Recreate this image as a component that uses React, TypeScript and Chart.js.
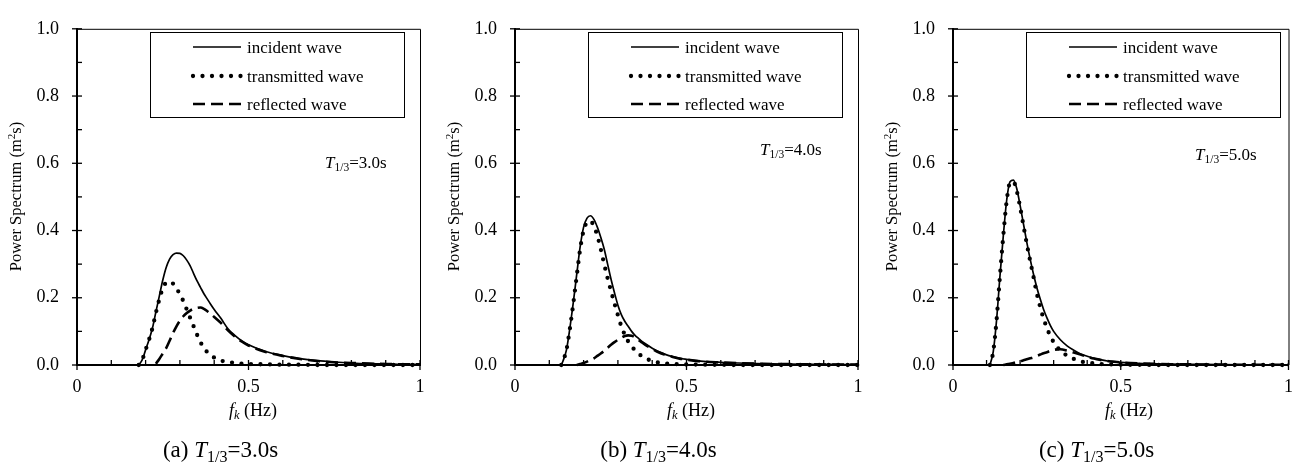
import React, { useEffect, useRef } from "react";
import { Chart, registerables } from "chart.js";
Chart.register(...registerables);

const FONT = "'Liberation Serif', 'Times New Roman', serif";

// ---------- data ----------
const freqA = [0.18, 0.19, 0.20, 0.21, 0.22, 0.23, 0.24, 0.25, 0.26, 0.27, 0.28, 0.29, 0.30, 0.31, 0.32, 0.33, 0.34, 0.35, 0.36, 0.37, 0.38, 0.39, 0.40, 0.42, 0.44, 0.46, 0.48, 0.50, 0.55, 0.60, 0.65, 0.70, 0.75, 0.80, 0.85, 0.90, 0.95, 1.00];
const incidentA = [0, 0.015, 0.045, 0.075, 0.11, 0.158, 0.205, 0.252, 0.29, 0.315, 0.328, 0.333, 0.332, 0.325, 0.312, 0.295, 0.272, 0.25, 0.231, 0.212, 0.196, 0.18, 0.165, 0.138, 0.108, 0.088, 0.072, 0.06, 0.04, 0.028, 0.019, 0.013, 0.009, 0.006, 0.004, 0.003, 0.002, 0.002];
const transmittedA = [0, 0.015, 0.045, 0.075, 0.11, 0.155, 0.195, 0.228, 0.245, 0.248, 0.242, 0.228, 0.21, 0.19, 0.165, 0.14, 0.115, 0.09, 0.068, 0.05, 0.038, 0.029, 0.022, 0.013, 0.009, 0.006, 0.004, 0.003, 0.002, 0.001, 0.001, 0, 0, 0, 0, 0, 0, 0];
const reflectedA = [null, null, null, null, null, 0.004, 0.018, 0.034, 0.05, 0.072, 0.095, 0.115, 0.132, 0.145, 0.155, 0.162, 0.167, 0.17, 0.171, 0.167, 0.16, 0.152, 0.143, 0.125, 0.103, 0.085, 0.07, 0.058, 0.039, 0.027, 0.018, 0.012, 0.008, 0.006, 0.004, 0.003, 0.002, 0.002];

const freqB = [0.135, 0.14, 0.15, 0.16, 0.17, 0.18, 0.19, 0.20, 0.21, 0.22, 0.23, 0.24, 0.25, 0.26, 0.27, 0.28, 0.29, 0.30, 0.31, 0.32, 0.33, 0.34, 0.35, 0.36, 0.37, 0.38, 0.40, 0.42, 0.44, 0.46, 0.48, 0.50, 0.55, 0.60, 0.65, 0.70, 0.75, 0.80, 0.85, 0.90, 0.95, 1.00];
const incidentB = [0, 0.012, 0.045, 0.11, 0.186, 0.27, 0.352, 0.41, 0.437, 0.444, 0.433, 0.41, 0.38, 0.345, 0.30, 0.255, 0.215, 0.178, 0.15, 0.13, 0.115, 0.10, 0.088, 0.079, 0.07, 0.063, 0.05, 0.039, 0.031, 0.025, 0.02, 0.017, 0.011, 0.008, 0.006, 0.0045, 0.0035, 0.0028, 0.0022, 0.0018, 0.0015, 0.0012];
const transmittedB = [0, 0.012, 0.045, 0.108, 0.183, 0.265, 0.345, 0.40, 0.424, 0.428, 0.413, 0.385, 0.345, 0.30, 0.258, 0.22, 0.183, 0.148, 0.115, 0.09, 0.07, 0.055, 0.044, 0.034, 0.026, 0.02, 0.012, 0.007, 0.004, 0.003, 0.002, 0.0015, 0.001, 0.0005, 0, 0, 0, 0, 0, 0, 0, 0];
const reflectedB = [null, null, null, null, null, 0, 0.003, 0.006, 0.01, 0.015, 0.02, 0.027, 0.034, 0.042, 0.051, 0.06, 0.068, 0.075, 0.081, 0.086, 0.088, 0.087, 0.082, 0.074, 0.067, 0.06, 0.048, 0.037, 0.03, 0.024, 0.019, 0.016, 0.01, 0.0075, 0.0055, 0.004, 0.003, 0.0025, 0.002, 0.0016, 0.0013, 0.001];

const freqC = [0.11, 0.12, 0.13, 0.14, 0.15, 0.16, 0.17, 0.18, 0.19, 0.20, 0.21, 0.22, 0.23, 0.24, 0.25, 0.26, 0.27, 0.28, 0.29, 0.30, 0.32, 0.34, 0.36, 0.38, 0.40, 0.42, 0.44, 0.46, 0.48, 0.50, 0.55, 0.60, 0.65, 0.70, 0.80, 0.90, 1.00];
const incidentC = [0, 0.04, 0.135, 0.265, 0.385, 0.49, 0.545, 0.55, 0.525, 0.475, 0.42, 0.365, 0.315, 0.27, 0.23, 0.196, 0.165, 0.14, 0.118, 0.1, 0.075, 0.057, 0.044, 0.033, 0.026, 0.02, 0.016, 0.012, 0.01, 0.008, 0.005, 0.0035, 0.0025, 0.002, 0.001, 0.0007, 0.0005];
const transmittedC = [0, 0.04, 0.135, 0.265, 0.385, 0.488, 0.542, 0.545, 0.518, 0.47, 0.415, 0.36, 0.31, 0.262, 0.212, 0.172, 0.138, 0.11, 0.086, 0.068, 0.043, 0.028, 0.018, 0.011, 0.007, 0.005, 0.003, 0.002, 0.0015, 0.001, 0.0005, 0, 0, 0, 0, 0, 0];
const reflectedC = [null, null, null, null, 0, 0.002, 0.004, 0.006, 0.009, 0.011, 0.014, 0.017, 0.02, 0.023, 0.027, 0.031, 0.035, 0.038, 0.042, 0.045, 0.047, 0.043, 0.037, 0.031, 0.025, 0.019, 0.015, 0.012, 0.0095, 0.0075, 0.0048, 0.0033, 0.0024, 0.0019, 0.001, 0.0007, 0.0005];

const seriesLabels = ["incident wave", "transmitted wave", "reflected wave"];
const periodLabels = ["3.0", "4.0", "5.0"];
const panelLetters = ["a", "b", "c"];
const xTickValues = [0, 0.5, 1];
const yTickStep = 0.2;

// ---------- layout/style (not data) ----------
const PANELS = [
  { left: 0, width: 438, padRight: 18, annX: 248, annBase: 168, freq: freqA, inc: incidentA, tr: transmittedA, rf: reflectedA },
  { left: 438, width: 438, padRight: 18, annX: 245, annBase: 155, freq: freqB, inc: incidentB, tr: transmittedB, rf: reflectedB },
  { left: 876, width: 428, padRight: 7, annX: 242, annBase: 160, freq: freqC, inc: incidentC, tr: transmittedC, rf: reflectedC },
];

const STYLES = [
  { borderWidth: 1.7, borderDash: [] as number[], cap: "butt" },
  { borderWidth: 4.3, borderDash: [0, 9.5], cap: "round" },
  { borderWidth: 2.6, borderDash: [12, 6], cap: "butt" },
];

type Part = { t: string; size: number; italic?: boolean; dy?: number };

function drawRich(ctx: CanvasRenderingContext2D, parts: Part[], x: number, y: number, align: "left" | "center") {
  let total = 0;
  const widths = parts.map((p) => {
    ctx.font = `${p.italic ? "italic " : ""}${p.size}px ${FONT}`;
    const w = ctx.measureText(p.t).width;
    total += w;
    return w;
  });
  let cx = align === "center" ? x - total / 2 : x;
  ctx.textBaseline = "alphabetic";
  ctx.textAlign = "left";
  parts.forEach((p, i) => {
    ctx.font = `${p.italic ? "italic " : ""}${p.size}px ${FONT}`;
    ctx.fillText(p.t, cx, y + (p.dy || 0));
    cx += widths[i];
  });
}

function makePlugin(idx: number) {
  const P = PANELS[idx];
  return {
    id: "panelDecor" + idx,
    afterDraw(chart: any) {
      const ctx: CanvasRenderingContext2D = chart.ctx;
      const { left, right, top, bottom } = chart.chartArea;
      const xs = chart.scales.x;
      const ys = chart.scales.y;
      ctx.save();
      ctx.strokeStyle = "#000";
      ctx.fillStyle = "#000";
      ctx.setLineDash([]);
      // thin top and right frame
      ctx.lineWidth = 1;
      ctx.beginPath();
      ctx.moveTo(left, top + 0.5);
      ctx.lineTo(right + 0.5, top + 0.5);
      ctx.lineTo(right + 0.5, bottom);
      ctx.stroke();
      // tick marks: major cross the axis, minor point inwards
      ctx.lineWidth = 1.3;
      for (let i = 0; i <= 10; i++) {
        const y = ys.getPixelForValue(i / 10);
        ctx.beginPath();
        ctx.moveTo(i % 2 === 0 ? left - 5 : left, y);
        ctx.lineTo(left + 5, y);
        ctx.stroke();
        const x = xs.getPixelForValue(i / 10);
        ctx.beginPath();
        ctx.moveTo(x, bottom - 5);
        ctx.lineTo(x, i % 5 === 0 ? bottom + 5 : bottom);
        ctx.stroke();
      }
      // legend box
      const bx = left + 73;
      ctx.lineWidth = 1;
      ctx.strokeRect(bx + 0.5, 32.5, 254, 85);
      const rows = [47, 76, 104];
      rows.forEach((ry, k) => {
        const st = STYLES[k];
        ctx.lineWidth = st.borderWidth;
        ctx.lineCap = st.cap as CanvasLineCap;
        ctx.setLineDash(st.borderDash);
        ctx.beginPath();
        ctx.moveTo(left + 116, ry);
        ctx.lineTo(left + 164, ry);
        ctx.stroke();
        ctx.setLineDash([]);
        ctx.lineCap = "butt";
        drawRich(ctx, [{ t: seriesLabels[k], size: 17 }], left + 170, ry + 5.5, "left");
      });
      // annotation T1/3
      drawRich(
        ctx,
        [
          { t: "T", size: 17, italic: true },
          { t: "1/3", size: 11.5, dy: 3 },
          { t: "=" + periodLabels[idx] + "s", size: 17 },
        ],
        left + P.annX,
        P.annBase,
        "left"
      );
      // x title
      drawRich(
        ctx,
        [
          { t: "f", size: 18, italic: true },
          { t: "k", size: 12.5, italic: true, dy: 3 },
          { t: " (Hz)", size: 18 },
        ],
        left + 176,
        416,
        "center"
      );
      // y title (rotated)
      ctx.save();
      ctx.translate(left - 56.5, 196.5);
      ctx.rotate(-Math.PI / 2);
      drawRich(
        ctx,
        [
          { t: "Power Spectrum (m", size: 16.5 },
          { t: "2", size: 11, dy: -6 },
          { t: "s)", size: 16.5 },
        ],
        0,
        0,
        "center"
      );
      ctx.restore();
      // caption
      drawRich(
        ctx,
        [
          { t: "(" + panelLetters[idx] + ") ", size: 23 },
          { t: "T", size: 23, italic: true },
          { t: "1/3", size: 16, dy: 4.5 },
          { t: "=" + periodLabels[idx] + "s", size: 23 },
        ],
        left + 143.5,
        457,
        "center"
      );
      ctx.restore();
    },
  };
}

function Panel({ idx }: { idx: number }) {
  const ref = useRef<HTMLCanvasElement | null>(null);
  const P = PANELS[idx];
  useEffect(() => {
    if (!ref.current) return;
    const series = [P.inc, P.tr, P.rf];
    const chart = new Chart(ref.current, {
      type: "line",
      data: {
        datasets: series.map((vals, k) => ({
          label: seriesLabels[k],
          data: P.freq.map((x, i) => ({ x, y: vals[i] })),
          borderColor: "#000",
          backgroundColor: "#000",
          borderWidth: STYLES[k].borderWidth,
          borderDash: STYLES[k].borderDash,
          borderCapStyle: STYLES[k].cap as CanvasLineCap,
          pointRadius: 0,
          fill: false,
          cubicInterpolationMode: "monotone",
          spanGaps: false,
          clip: 4,
        })),
      },
      options: {
        responsive: false,
        animation: false,
        layout: { padding: { left: 0, top: 15, right: P.padRight, bottom: 0 } },
        plugins: { legend: { display: false }, tooltip: { enabled: false }, title: { display: false } },
        scales: {
          x: {
            type: "linear",
            min: 0,
            max: 1,
            afterBuildTicks: (s: any) => {
              s.ticks = xTickValues.map((v) => ({ value: v }));
            },
            ticks: {
              color: "#000",
              font: { family: FONT, size: 18 },
              padding: 11,
              maxRotation: 0,
              autoSkip: false,
              callback: (v: any) => String(v),
            },
            grid: { display: false, drawTicks: false },
            border: { display: true, color: "#000", width: 2 },
            afterFit: (s: any) => {
              s.height = 99;
            },
          },
          y: {
            type: "linear",
            min: 0,
            max: 1,
            ticks: {
              stepSize: yTickStep,
              color: "#000",
              font: { family: FONT, size: 18 },
              padding: 18,
              callback: (v: any) => Number(v).toFixed(1),
            },
            grid: { display: false, drawTicks: false },
            border: { display: true, color: "#000", width: 2 },
            afterFit: (s: any) => {
              s.width = 77;
            },
          },
        },
      } as any,
      plugins: [makePlugin(idx)],
    });
    return () => chart.destroy();
  }, []);
  return (
    <canvas
      ref={ref}
      width={P.width}
      height={464}
      style={{ position: "absolute", left: P.left, top: 0, width: P.width, height: 464, display: "block" }}
    />
  );
}

export default function App() {
  return (
    <div style={{ position: "absolute", left: 0, top: 0, width: 1304, height: 464, background: "#fff", overflow: "hidden" }}>
      <Panel idx={0} />
      <Panel idx={1} />
      <Panel idx={2} />
    </div>
  );
}
